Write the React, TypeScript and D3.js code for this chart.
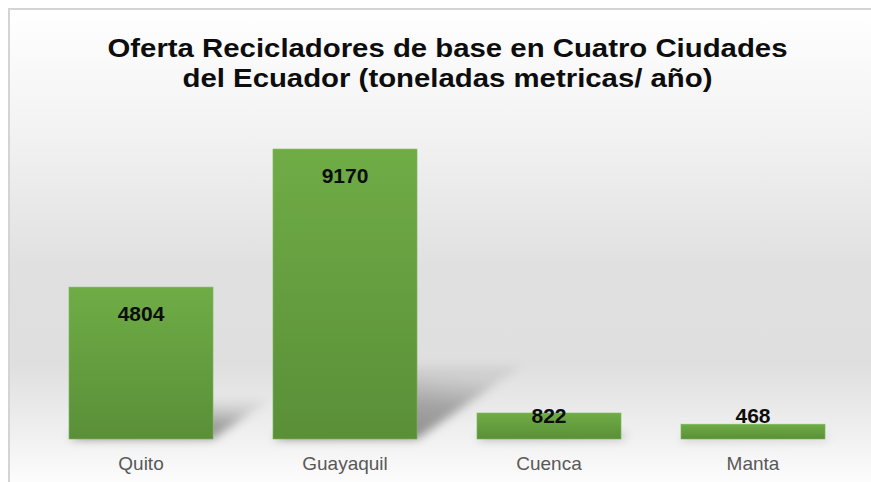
import React from "react";
import * as d3 from "d3";

const categories = ["Quito", "Guayaquil", "Cuenca", "Manta"];
const values = [4804, 9170, 822, 468];
const titleLines = ["Oferta Recicladores de base en Cuatro Ciudades", "del Ecuador (toneladas metricas/ año)"];

const W = 871;
const H = 482;

export default function App() {
  const base = 439;
  const x = d3.scaleBand<string>().domain(categories).range([39, 855]).paddingInner(0.294).paddingOuter(0.147);
  const y = d3.scaleLinear().domain([0, 10000]).range([base, base - 316.2]);

  return (
    <svg width={W} height={H} style={{ position: "absolute", left: 0, top: 0 }}>
      <defs>
        <linearGradient id="bg" gradientUnits="userSpaceOnUse" x1="0" y1="8" x2="0" y2={H}>
          <stop offset="0" stopColor="#ffffff" />
          <stop offset="0.25" stopColor="#f3f3f3" />
          <stop offset="0.55" stopColor="#e0e0e0" />
          <stop offset="0.75" stopColor="#dfdfdf" />
          <stop offset="0.9" stopColor="#f0f0f0" />
          <stop offset="1" stopColor="#fcfcfc" />
        </linearGradient>
        <linearGradient id="bar" x1="0" y1="0" x2="0" y2="1">
          <stop offset="0" stopColor="#6fac46" />
          <stop offset="1" stopColor="#5a8f38" />
        </linearGradient>
        <filter id="blur" x="-50%" y="-50%" width="200%" height="200%">
          <feGaussianBlur stdDeviation="5" />
        </filter>
        <linearGradient id="shadowGrad" x1="0" y1="1" x2="0.3" y2="0">
          <stop offset="0" stopColor="#000" stopOpacity="0.45" />
          <stop offset="0.6" stopColor="#000" stopOpacity="0.3" />
          <stop offset="1" stopColor="#000" stopOpacity="0.08" />
        </linearGradient>
      </defs>
      <rect x={0} y={0} width={W} height={H} fill="#ffffff" />
      <rect x={9} y={9} width={W + 10} height={H + 10} fill="url(#bg)" stroke="#d4d4d4" strokeWidth={2} />

      {titleLines.map((t, i) => (
        <text
          key={i}
          x={W / 2 + 12}
          y={57 + i * 30}
          textAnchor="middle"
          fontFamily="Liberation Sans, Arial, sans-serif"
          fontWeight="bold"
          fontSize={25}
          fill="#0d0d0d"
          textLength={i === 0 ? 680 : 530}
          lengthAdjust="spacingAndGlyphs"
        >
          {t}
        </text>
      ))}

      <g filter="url(#blur)">
        {categories.map((c, i) => {
          const x0 = x(c)!;
          const x1 = x0 + x.bandwidth();
          const h = base - y(values[i]);
          const dx = 0.36 * h;
          const yt = base - 0.25 * h;
          const pts = [
            [x0, base],
            [x1, base],
            [x1 + dx, yt],
            [x0 + dx, yt],
          ];
          return <polygon key={c} points={pts.map((p) => p.join(",")).join(" ")} fill="url(#shadowGrad)" />;
        })}
      </g>

      {categories.map((c, i) => (
        <rect
          key={c}
          x={x(c)}
          y={y(values[i])}
          width={x.bandwidth()}
          height={base - y(values[i])}
          fill="url(#bar)"
          stroke="#7cb85a"
          strokeWidth={0.6}
        />
      ))}

      {categories.map((c, i) => (
        <text
          key={c}
          x={x(c)! + x.bandwidth() / 2}
          y={Math.min(y(values[i]) + 34, base - 16)}
          textAnchor="middle"
          fontFamily="Liberation Sans, Arial, sans-serif"
          fontWeight="bold"
          fontSize={21}
          fill="#0d0d0d"
        >
          {values[i]}
        </text>
      ))}

      {categories.map((c) => (
        <text
          key={c}
          x={x(c)! + x.bandwidth() / 2}
          y={470}
          textAnchor="middle"
          fontFamily="Liberation Sans, Arial, sans-serif"
          fontSize={19}
          fill="#595959"
        >
          {c}
        </text>
      ))}
    </svg>
  );
}
